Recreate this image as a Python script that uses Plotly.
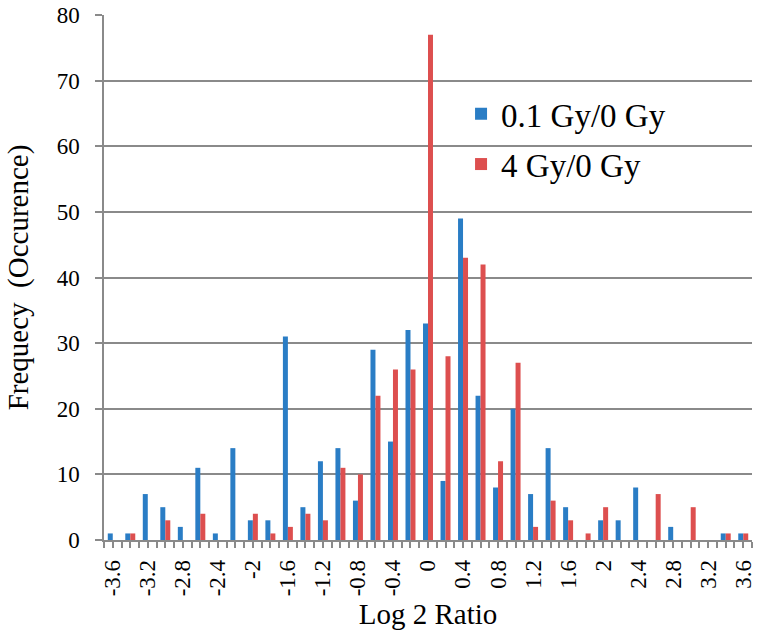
import plotly.graph_objects as go

categories = [round(-3.6 + 0.2 * i, 1) for i in range(37)]
blue_vals = [1, 1, 7, 5, 2, 11, 1, 14, 3, 3, 31, 5, 12, 14, 6, 29, 15, 32, 33, 9,
             49, 22, 8, 20, 7, 14, 5, 0, 3, 3, 8, 0, 2, 0, 0, 1, 1]
red_vals = [0, 1, 0, 3, 0, 4, 0, 0, 4, 1, 2, 4, 3, 11, 10, 22, 26, 26, 77, 28,
            43, 42, 12, 27, 2, 6, 3, 1, 5, 0, 0, 7, 0, 5, 0, 1, 1]
tick_vals = [-3.6, -3.2, -2.8, -2.4, -2.0, -1.6, -1.2, -0.8, -0.4, 0, 0.4, 0.8,
             1.2, 1.6, 2.0, 2.4, 2.8, 3.2, 3.6]
tick_text = ["-3.6", "-3.2", "-2.8", "-2.4", "-2", "-1.6", "-1.2", "-0.8", "-0.4", "0",
             "0.4", "0.8", "1.2", "1.6", "2", "2.4", "2.8", "3.2", "3.6"]
minor_ticks = [round(-3.7 + 0.1 * i, 1) for i in range(75)]

FONT = "Liberation Serif, Times New Roman, serif"
GRID = "#8a8a8a"

fig = go.Figure()
fig.add_trace(go.Bar(x=categories, y=blue_vals, name="0.1 Gy/0 Gy",
                     marker=dict(color="#2a7dc5", line=dict(width=0)), legend="legend"))
fig.add_trace(go.Bar(x=categories, y=red_vals, name="4 Gy/0 Gy",
                     marker=dict(color="#dd4f4f", line=dict(width=0)), legend="legend2"))

fig.update_layout(
    width=760, height=641,
    margin=dict(l=104, r=8, t=15, b=101, autoexpand=False),
    paper_bgcolor="white", plot_bgcolor="white",
    font=dict(family=FONT, color="black"),
    barmode="group", bargap=0.43, bargroupgap=0,
    showlegend=True,
    legend=dict(x=0.551, y=0.812, xanchor="left", yanchor="middle",
                font=dict(size=33, family=FONT), bgcolor="rgba(0,0,0,0)"),
    legend2=dict(x=0.551, y=0.716, xanchor="left", yanchor="middle",
                 font=dict(size=33, family=FONT), bgcolor="rgba(0,0,0,0)"),
    xaxis=dict(
        range=[-3.7, 3.7], tickmode="array", tickvals=tick_vals, ticktext=tick_text,
        tickangle=-90, tickfont=dict(size=23), ticks="", ticklabelstandoff=9,
        showline=True, linecolor=GRID, linewidth=1.5, showgrid=False, zeroline=False,
        automargin=False,
        minor=dict(tickmode="array", tickvals=minor_ticks, ticks="outside",
                   ticklen=6, tickcolor=GRID, tickwidth=1.5, showgrid=False),
        title=dict(text="Log 2 Ratio", font=dict(size=29), standoff=8),
    ),
    yaxis=dict(
        range=[0, 80], dtick=10, tickfont=dict(size=23),
        ticks="outside", ticklen=7, tickcolor=GRID, tickwidth=1.5, ticklabelstandoff=11,
        showline=True, linecolor=GRID, linewidth=1.5, automargin=False,
        showgrid=True, gridcolor=GRID, gridwidth=1.5, zeroline=False,
        title=dict(text="Frequecy  (Occurence)", font=dict(size=29), standoff=20),
    ),
)

fig.write_html("out.html", config={"displayModeBar": False},
               post_script="document.body.style.margin='0';")
